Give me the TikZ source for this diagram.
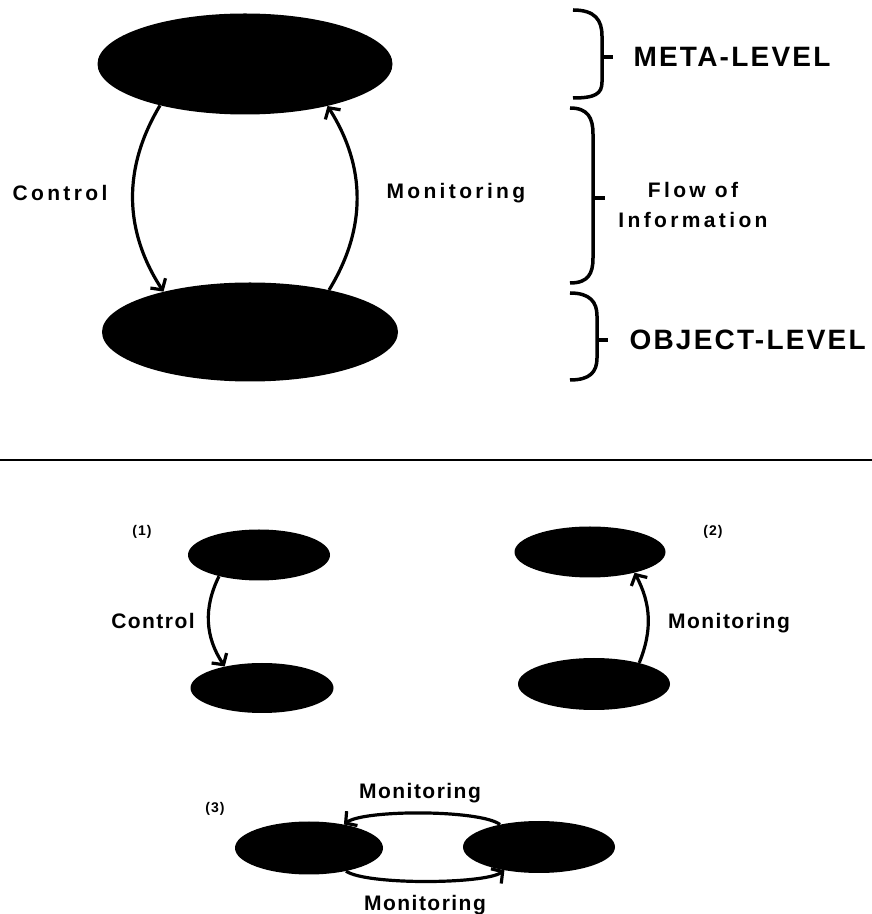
\documentclass[tikz,border=0pt]{standalone}
\usepackage{fontspec}
\setmainfont{Liberation Sans}
\newfontfamily\wideface[LetterSpace=16]{Liberation Sans}
\newfontfamily\capsface[LetterSpace=8]{Liberation Sans}
\newfontfamily\smallface[LetterSpace=7]{Liberation Sans}
\usetikzlibrary{shapes.geometric, arrows.meta, positioning}

\begin{document}
\begin{tikzpicture}[x=1pt, y=1pt, >={Straight Barb[length=8pt,width=18pt]},
    blob/.style={ellipse, fill=black, inner sep=0pt},
    lab/.style={font=\wideface\bfseries\fontsize{21}{30}\selectfont, align=center},
    sublab/.style={font=\smallface\bfseries\fontsize{21}{25}\selectfont},
    biglab/.style={font=\capsface\bfseries\fontsize{28}{32}\selectfont, anchor=west},
    numlab/.style={font=\smallface\bfseries\fontsize{14}{16}\selectfont},
    flowline/.style={line width=3.2pt},
    bracket/.style={line width=3.5pt}]
    \useasboundingbox (0,0) rectangle (872,914);
    \node[blob, minimum width=295pt, minimum height=101pt] (meta) at (245,850) {};
    \node[blob, minimum width=296pt, minimum height=99pt] (obj) at (250,582) {};
    \draw[flowline, ->](meta.206) to[bend right=32] (obj.155);
    \draw[flowline, ->](obj.28) to[bend right=32] (meta.333);
    \node[lab] (ctl) at (60,721) {Control};
    \node[lab, anchor=west] (mon) at (383,721) {Monitoring};
\draw[bracket](573,904) .. controls (595,904) and (602,894) .. (602,878) -- (602,832) .. controls (602,820) and (595,816) .. (573,816);
\draw[bracket](602,857)--(613,857);
\draw[bracket](570,806) .. controls (588,806) and (593,796) .. (593,780) -- (593,656) .. controls (593,640) and (588,631) .. (570,631);
\draw[bracket](593,716)--(605,716);
\draw[bracket](570,621) .. controls (590,621) and (597,612) .. (597,598) -- (597,556) .. controls (597,542) and (590,534) .. (570,534);
\draw[bracket](597,574)--(608,574);
    \node[biglab] (metalab) at (630,857) {META-LEVEL};
    \node[lab] (flow) at (693,709) {Flow of\\Information};
    \node[biglab] (objlab) at (626,574) {OBJECT-LEVEL};

\draw[line width=2.5pt](0,454)--(872,454);

    \node[numlab] (n1) at (142,382) {(1)};
    \node[blob, minimum width=142pt, minimum height=51pt] (m1) at (259,359) {};
    \node[blob, minimum width=143pt, minimum height=50pt] (o1) at (262,226) {};
    \draw[flowline, ->](m1.208) to[bend right=30] (o1.150);
    \node[sublab] (ctl1) at (153,293) {Control};

    \node[numlab] (n2) at (713,382) {(2)};
    \node[blob, minimum width=151pt, minimum height=51pt] (m2) at (590,362) {};
    \node[blob, minimum width=152pt, minimum height=52pt] (o2) at (594,230) {};
    \draw[flowline, ->](o2.25) to[bend right=25] (m2.335);
    \node[sublab] (mon2) at (729,291) {Monitoring};

    \node[numlab] (n3) at (215,105) {(3)};
    \node[blob, minimum width=148pt, minimum height=53pt] (l3) at (309,66) {};
    \node[blob, minimum width=152pt, minimum height=52pt] (r3) at (539,67) {};
    \draw[flowline, ->](r3.150) .. controls +(-20,15) and +(20,15) .. (l3.34);
    \draw[flowline, ->](l3.328) .. controls +(20,-14) and +(-20,-14) .. (r3.214);
    \node[sublab] (mon3a) at (420,121) {Monitoring};
    \node[sublab] (mon3b) at (425,9) {Monitoring};
\end{tikzpicture}
\end{document}
